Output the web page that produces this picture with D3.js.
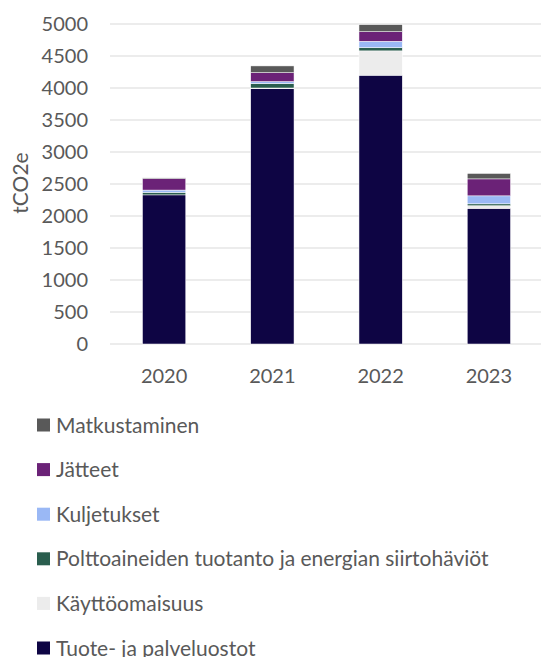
<!doctype html>
<html lang="fi">
<head>
<meta charset="utf-8">
<title>tCO2e by year</title>
<style>
  body { margin: 0; background: #fff; }
  svg { display: block; font-family: Lato, "Open Sans", sans-serif; }
</style>
</head>
<body>
<svg id="chart"></svg>
<script src="https://cdn.jsdelivr.net/npm/d3@7"></script>
<script>
// data
let years = ["2020", "2021", "2022", "2023"];
let series = ["Tuote- ja palveluostot", "Käyttöomaisuus", "Polttoaineiden tuotanto ja energian siirtohäviöt", "Kuljetukset", "Jätteet", "Matkustaminen"];
let colors = ["#0e0544", "#ececec", "#2a5e4e", "#9ab8f5", "#6b2277", "#595959"];
let tuote = [2330, 3990, 4200, 2120];
let kaytto = [0, 10, 380, 40];
let poltto = [40, 70, 50, 30];
let kuljetukset = [35, 30, 100, 125];
let jatteet = [180, 140, 150, 265];
let matkustaminen = [10, 105, 110, 85];
let yTicks = [0, 500, 1000, 1500, 2000, 2500, 3000, 3500, 4000, 4500, 5000];

let width = 541, height = 657;
let svg = d3.select("#chart").attr("width", width).attr("height", height);

let rows = years.map((y, i) => ({
  year: y,
  s0: tuote[i], s1: kaytto[i], s2: poltto[i], s3: kuljetukset[i], s4: jatteet[i], s5: matkustaminen[i]
}));
let keys = ["s0", "s1", "s2", "s3", "s4", "s5"];
let stacked = d3.stack().keys(keys)(rows);

let x = d3.scaleBand().domain(years).range([110, 543]).paddingInner(0.6).paddingOuter(0.3);
let y = d3.scaleLinear().domain([0, 5000]).range([344, 24]);

// gridlines
svg.append("g")
  .selectAll("line")
  .data(yTicks)
  .enter()
  .append("line")
    .attr("x1", 110).attr("x2", 541)
    .attr("y1", d => y(d)).attr("y2", d => y(d))
    .attr("stroke", "#d9d9d9")
    .attr("stroke-width", 1);

// tick labels
svg.append("g")
  .selectAll("text")
  .data(yTicks)
  .enter()
  .append("text")
    .attr("x", 88)
    .attr("y", d => y(d))
    .attr("dy", "0.36em")
    .attr("text-anchor", "end")
    .attr("fill", "#595959")
    .style("font-size", "20px")
    .text(d => d);

svg.append("text")
  .attr("transform", "translate(20,183) rotate(-90)")
  .attr("dy", "0.36em")
  .attr("text-anchor", "middle")
  .attr("fill", "#595959")
  .style("font-size", "21px")
  .text("tCO2e");

// bars
svg.append("g")
  .selectAll("g")
  .data(stacked)
  .enter()
  .append("g")
    .attr("fill", (d, i) => colors[i])
  .selectAll("rect")
  .data(d => d)
  .enter()
  .append("rect")
    .attr("x", d => x(d.data.year))
    .attr("width", x.bandwidth())
    .attr("y", d => y(d[1]))
    .attr("height", d => y(d[0]) - y(d[1]))
    .attr("stroke", "#fff")
    .attr("stroke-width", 0.5);

// x labels
svg.append("g")
  .selectAll("text")
  .data(years)
  .enter()
  .append("text")
    .attr("x", d => x(d) + x.bandwidth() / 2)
    .attr("y", 376)
    .attr("dy", "0.36em")
    .attr("text-anchor", "middle")
    .attr("fill", "#595959")
    .style("font-size", "20px")
    .text(d => d);

// legend (top to bottom, reverse of stack order)
let legendOrder = d3.range(series.length).reverse();
let legend = svg.append("g")
  .selectAll("g")
  .data(legendOrder)
  .enter()
  .append("g")
    .attr("transform", (d, i) => "translate(37," + (425 + i * 44.6) + ")");

legend.append("rect")
  .attr("x", 0).attr("y", -6.5)
  .attr("width", 13).attr("height", 13)
  .attr("fill", d => colors[d]);

legend.append("text")
  .attr("x", 19)
  .attr("dy", "0.36em")
  .attr("fill", "#595959")
  .style("font-size", "21px")
  .text(d => series[d]);
</script>
</body>
</html>
